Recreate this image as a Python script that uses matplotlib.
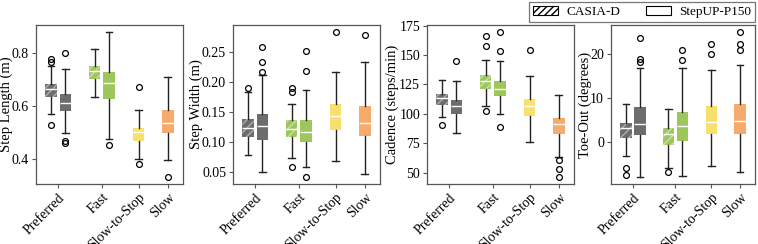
import numpy as np
import matplotlib
matplotlib.use("Agg")
import matplotlib.pyplot as plt
from matplotlib.patches import Patch
from matplotlib.colors import to_rgb

plt.rcParams['font.family'] = ['Liberation Serif', 'DejaVu Serif']
plt.rcParams['font.size'] = 10
plt.rcParams['hatch.linewidth'] = 1.0

categories = ['Preferred', 'Fast', 'Slow-to-Stop', 'Slow']
# box order: Pref CASIA, Pref StepUP, Fast CASIA, Fast StepUP, StS StepUP, Slow StepUP
datasets = ['CASIA-D', 'StepUP-P150', 'CASIA-D', 'StepUP-P150', 'StepUP-P150', 'StepUP-P150']
box_colors = ['#6d6d6d', '#6d6d6d', '#9dc75d', '#9dc75d', '#f7e06c', '#f6aa6c']

# step length (m)
len_lo = [0.571, 0.498, 0.634, 0.475, 0.400, 0.395]
len_q1 = [0.634, 0.580, 0.700, 0.626, 0.467, 0.498]
len_med = [0.662, 0.609, 0.733, 0.687, 0.500, 0.536]
len_q3 = [0.684, 0.645, 0.752, 0.728, 0.517, 0.584]
len_hi = [0.750, 0.740, 0.816, 0.878, 0.586, 0.707]
len_fl = [[0.775, 0.767, 0.527], [0.800, 0.467, 0.460], [], [0.452], [0.672, 0.379], [0.332]]

# step width (m)
wid_lo = [0.078, 0.050, 0.073, 0.059, 0.068, 0.047]
wid_q1 = [0.109, 0.103, 0.108, 0.100, 0.120, 0.110]
wid_med = [0.124, 0.126, 0.122, 0.117, 0.143, 0.132]
wid_q3 = [0.139, 0.146, 0.136, 0.137, 0.164, 0.160]
wid_hi = [0.183, 0.211, 0.163, 0.187, 0.216, 0.233]
wid_fl = [[0.190], [0.259, 0.233, 0.216], [0.190, 0.183, 0.059], [0.252, 0.218, 0.042], [0.283], [0.278]]

# cadence (steps/min)
cad_lo = [97.5, 83.9, 106.6, 100.3, 76.0, 63.0]
cad_q1 = [107.7, 99.5, 121.3, 115.0, 98.1, 82.5]
cad_med = [113.1, 107.1, 127.8, 120.7, 107.1, 91.0]
cad_q3 = [116.5, 111.7, 132.6, 128.3, 112.8, 96.7]
cad_hi = [128.6, 128.3, 145.9, 144.7, 132.0, 115.6]
cad_fl = [[90.2], [144.7], [166.5, 158.0, 102.3], [169.3, 153.2, 89.0], [153.8], [60.5, 53.4, 46.6]]

# toe-out (degrees)
toe_lo = [-3.3, -8.0, -5.9, -7.8, -5.5, -7.0]
toe_q1 = [0.9, 1.5, -0.8, 0.2, 1.8, 1.7]
toe_med = [3.2, 3.9, 1.7, 3.5, 4.5, 4.7]
toe_q3 = [4.3, 7.9, 3.2, 6.8, 8.1, 8.6]
toe_hi = [8.6, 16.8, 7.5, 16.8, 16.2, 17.5]
toe_fl = [[-6.1, -7.7], [23.5, 18.7, 18.2], [-7.0], [20.8, 18.6], [22.3, 20.0], [24.9, 22.3, 20.8]]

panels = [
    ('Step Length (m)', len_lo, len_q1, len_med, len_q3, len_hi, len_fl, [0.4, 0.6, 0.8]),
    ('Step Width (m)', wid_lo, wid_q1, wid_med, wid_q3, wid_hi, wid_fl, [0.05, 0.10, 0.15, 0.20, 0.25]),
    ('Cadence (steps/min)', cad_lo, cad_q1, cad_med, cad_q3, cad_hi, cad_fl, [50, 75, 100, 125, 150, 175]),
    ('Toe-Out (degrees)', toe_lo, toe_q1, toe_med, toe_q3, toe_hi, toe_fl, [0, 10, 20]),
]

cat_pos = [0, 1, 1.85, 2.52]
box_pos = [-0.16, 0.17, 0.84, 1.17, 1.85, 2.52]
box_w = 0.27

def lighten(c, f=0.45):
    r, g, b = to_rgb(c)
    return (r + (1 - r) * f, g + (1 - g) * f, b + (1 - b) * f)

fig = plt.figure(figsize=(7.58, 2.44), dpi=100)
lefts = [36, 233, 427, 611]
widths = [147, 147, 147, 144]
label_x = [-0.155, -0.205, -0.19, -0.135]
spine_c = '#555555'

for k, (ylabel, lo, q1, med, q3, hi, fl, yt) in enumerate(panels):
    ax = fig.add_axes([lefts[k] / 758, 60 / 244, widths[k] / 758, 159 / 244])
    stats = []
    for i in range(6):
        stats.append(dict(whislo=lo[i], q1=q1[i], med=med[i], q3=q3[i], whishi=hi[i], fliers=fl[i]))
    bp = ax.bxp(stats, positions=box_pos, widths=box_w, capwidths=0.15, patch_artist=True,
                manage_ticks=False,
                whiskerprops=dict(color='#222222', lw=1.0),
                capprops=dict(color='#222222', lw=1.0),
                medianprops=dict(color='white', lw=1.0),
                flierprops=dict(marker='o', markersize=4.2, markerfacecolor='none',
                                markeredgecolor='black', markeredgewidth=0.9))
    for i, box in enumerate(bp['boxes']):
        box.set_facecolor(box_colors[i])
        box.set_linewidth(0)
        box.set_edgecolor(lighten(box_colors[i]))
        if datasets[i] == 'CASIA-D':
            box.set_hatch('////')
    ax.set_xticks(cat_pos)
    ax.set_xticklabels(categories, rotation=45, ha='right', rotation_mode='anchor')
    ax.set_xlim(-0.506, 2.87)
    ax.set_yticks(yt)
    ax.set_ylabel(ylabel, fontsize=10.5)
    ax.yaxis.set_label_coords(label_x[k], 0.5)
    for s in ax.spines.values():
        s.set_color(spine_c)
        s.set_linewidth(0.9)
    ax.tick_params(colors='black', length=3, width=0.8, pad=2)
    ax.tick_params(axis='both', color=spine_c)

handles = [Patch(facecolor='white', edgecolor='black', hatch='/////', lw=0.8),
           Patch(facecolor='white', edgecolor='black', lw=0.8)]
leg = fig.legend(handles, ['CASIA-D', 'StepUP-P150'], loc='upper right', ncol=2,
                 bbox_to_anchor=(0.998, 0.998), borderaxespad=0.1, fontsize=9.5,
                 frameon=True, fancybox=False, edgecolor=spine_c, columnspacing=1.9,
                 handlelength=1.9, borderpad=0.3, handletextpad=0.65)
leg.get_frame().set_linewidth(0.9)

fig.savefig('out.png', dpi=100)
